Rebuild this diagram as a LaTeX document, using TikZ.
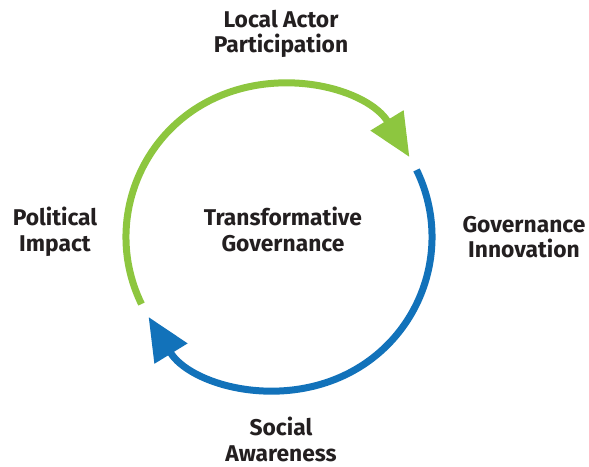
\documentclass[tikz,border=0pt]{standalone}
\usepackage{fontspec}
\setmainfont{Fira Sans}
\usetikzlibrary{arrows.meta}
\definecolor{cyclegreen}{RGB}{141,198,63}
\definecolor{cycleblue}{RGB}{18,114,186}
\definecolor{textdark}{RGB}{35,31,32}
\begin{document}
\begin{tikzpicture}[x=1pt,y=1pt,
    label/.style={align=center,inner sep=0pt,text=textdark,
      font=\fontsize{22.8}{25.5}\selectfont\bfseries},
    cyclearc/.style={line width=7pt,-{Triangle[length=43pt,width=37pt]}}]
   \useasboundingbox (0,0) rectangle (589,466);
   \coordinate (c) at (279,229);
   % the two arcs of the cycle
   \draw[cyclearc,cyclegreen] ([shift={(206:153)}]c) arc[start angle=206,end angle=31.5,radius=153];
   \draw[cyclearc,cycleblue] ([shift={(26:153)}]c) arc[start angle=26,end angle=-148.5,radius=153];
   % labels
   \node[label] (core) at (283,236.5) {Transformative\\Governance};
   \node[label] (local) at (281,432) {Local Actor\\Participation};
   \node[label] (innov) at (524,229) {Governance\\Innovation};
   \node[label] (social) at (281,26.5) {Social\\Awareness};
   \node[label] (polit) at (55,234) {Political\\Impact};
\end{tikzpicture}
\end{document}
